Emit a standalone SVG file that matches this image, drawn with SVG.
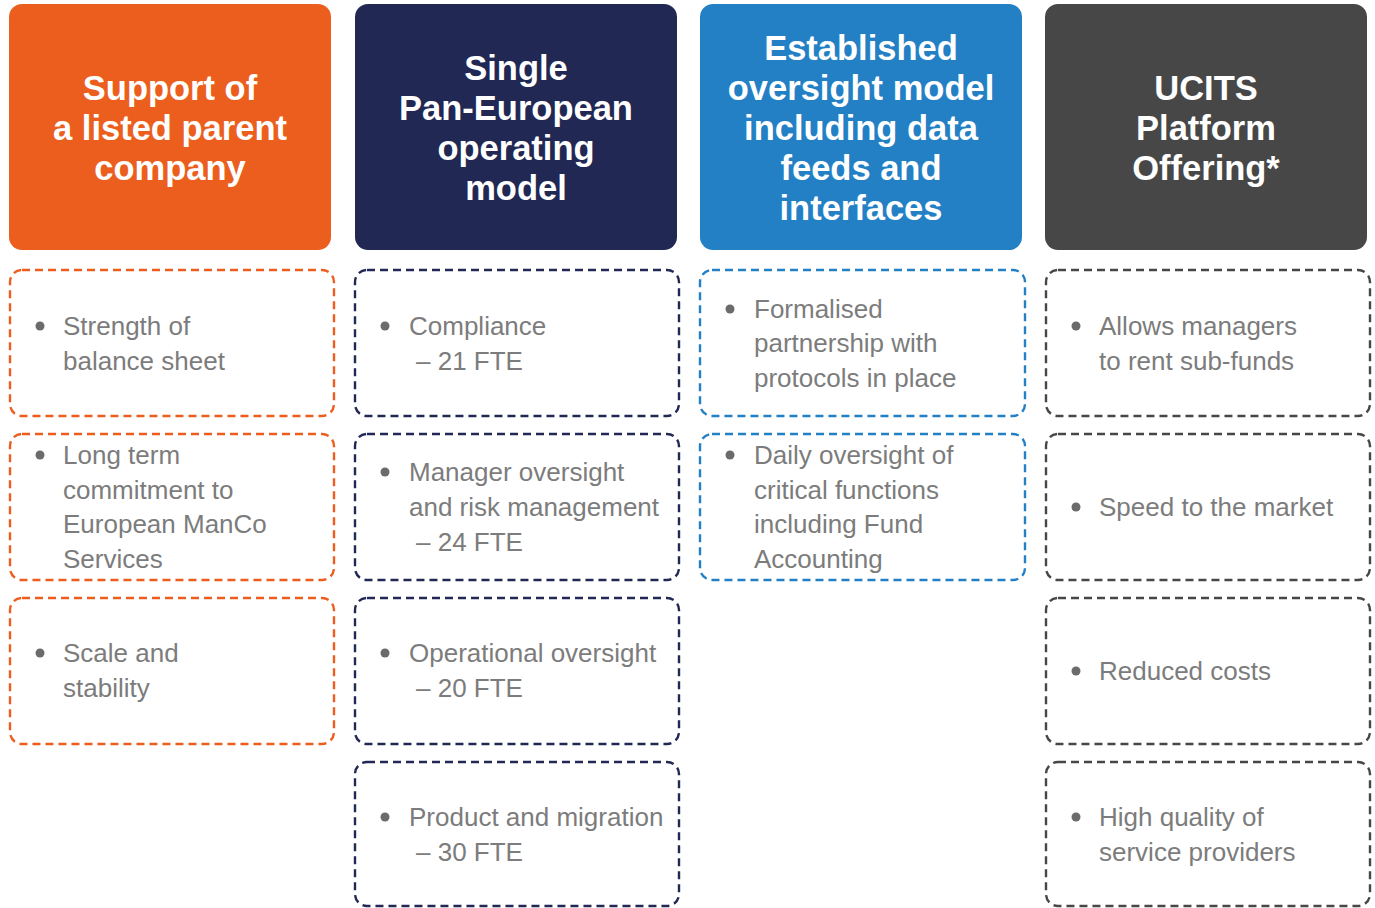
<svg xmlns="http://www.w3.org/2000/svg" width="1375" height="908" viewBox="0 0 1375 908">
<style>
.hd{stroke:none}
.ht{font-family:"Liberation Sans",Arial,sans-serif;font-weight:bold;font-size:34.5px;fill:#fff;text-anchor:middle}
.bx{fill:#fff;stroke-width:2.4;stroke-dasharray:8 5}
.t{font-family:"Liberation Sans",Arial,sans-serif;font-size:26px;fill:#7c7c7c}
.b{fill:#6b6b6b}
.o{stroke:#EB5E1E}.n{stroke:#212854}.bl{stroke:#2480C5}.g{stroke:#474747}
</style>
<rect width="1375" height="908" fill="#fff"/>
<g id="h1"><rect class="hd" x="9" y="4" width="322" height="246" rx="13" fill="#EB5E1E"/>
<text class="ht"><tspan x="170" y="100">Support of</tspan><tspan x="170" y="140">a listed parent</tspan><tspan x="170" y="180">company</tspan></text></g>
<g id="h2"><rect class="hd" x="355" y="4" width="322" height="246" rx="13" fill="#212854"/>
<text class="ht"><tspan x="516" y="80">Single</tspan><tspan x="516" y="120">Pan-European</tspan><tspan x="516" y="160">operating</tspan><tspan x="516" y="200">model</tspan></text></g>
<g id="h3"><rect class="hd" x="700" y="4" width="322" height="246" rx="13" fill="#2480C5"/>
<text class="ht"><tspan x="861" y="60">Established</tspan><tspan x="861" y="100">oversight model</tspan><tspan x="861" y="140">including data</tspan><tspan x="861" y="180">feeds and</tspan><tspan x="861" y="220">interfaces</tspan></text></g>
<g id="h4"><rect class="hd" x="1045" y="4" width="322" height="246" rx="13" fill="#474747"/>
<text class="ht"><tspan x="1206" y="100">UCITS</tspan><tspan x="1206" y="140">Platform</tspan><tspan x="1206" y="180">Offering*</tspan></text></g>

<g id="c1r1"><rect class="bx o" x="10" y="270" width="324" height="146" rx="12"/><circle class="b" cx="40" cy="326" r="4.5"/>
<text class="t"><tspan x="63" y="335">Strength of</tspan><tspan x="63" y="370">balance sheet</tspan></text></g>
<g id="c1r2"><rect class="bx o" x="10" y="434" width="324" height="146" rx="12"/><circle class="b" cx="40" cy="455" r="4.5"/>
<text class="t"><tspan x="63" y="464">Long term</tspan><tspan x="63" y="499">commitment to</tspan><tspan x="63" y="533">European ManCo</tspan><tspan x="63" y="568">Services</tspan></text></g>
<g id="c1r3"><rect class="bx o" x="10" y="598" width="324" height="146" rx="12"/><circle class="b" cx="40" cy="653" r="4.5"/>
<text class="t"><tspan x="63" y="662">Scale and</tspan><tspan x="63" y="697">stability</tspan></text></g>

<g id="c2r1"><rect class="bx n" x="355" y="270" width="324" height="146" rx="12"/><circle class="b" cx="385" cy="326" r="4.5"/>
<text class="t"><tspan x="409" y="335">Compliance</tspan><tspan x="416" y="370">– 21 FTE</tspan></text></g>
<g id="c2r2"><rect class="bx n" x="355" y="434" width="324" height="146" rx="12"/><circle class="b" cx="385" cy="472" r="4.5"/>
<text class="t"><tspan x="409" y="481">Manager oversight</tspan><tspan x="409" y="516">and risk management</tspan><tspan x="416" y="551">– 24 FTE</tspan></text></g>
<g id="c2r3"><rect class="bx n" x="355" y="598" width="324" height="146" rx="12"/><circle class="b" cx="385" cy="653" r="4.5"/>
<text class="t"><tspan x="409" y="662">Operational oversight</tspan><tspan x="416" y="697">– 20 FTE</tspan></text></g>
<g id="c2r4"><rect class="bx n" x="355" y="762" width="324" height="144" rx="12"/><circle class="b" cx="385" cy="817" r="4.5"/>
<text class="t"><tspan x="409" y="826">Product and migration</tspan><tspan x="416" y="861">– 30 FTE</tspan></text></g>

<g id="c3r1"><rect class="bx bl" x="700" y="270" width="325" height="146" rx="12"/><circle class="b" cx="730" cy="309" r="4.5"/>
<text class="t"><tspan x="754" y="318">Formalised</tspan><tspan x="754" y="352">partnership with</tspan><tspan x="754" y="387">protocols in place</tspan></text></g>
<g id="c3r2"><rect class="bx bl" x="700" y="434" width="325" height="146" rx="12"/><circle class="b" cx="730" cy="455" r="4.5"/>
<text class="t"><tspan x="754" y="464">Daily oversight of</tspan><tspan x="754" y="499">critical functions</tspan><tspan x="754" y="533">including Fund</tspan><tspan x="754" y="568">Accounting</tspan></text></g>

<g id="c4r1"><rect class="bx g" x="1046" y="270" width="324" height="146" rx="12"/><circle class="b" cx="1076" cy="326" r="4.5"/>
<text class="t"><tspan x="1099" y="335">Allows managers</tspan><tspan x="1099" y="370">to rent sub-funds</tspan></text></g>
<g id="c4r2"><rect class="bx g" x="1046" y="434" width="324" height="146" rx="12"/><circle class="b" cx="1076" cy="507" r="4.5"/>
<text class="t"><tspan x="1099" y="516">Speed to the market</tspan></text></g>
<g id="c4r3"><rect class="bx g" x="1046" y="598" width="324" height="146" rx="12"/><circle class="b" cx="1076" cy="671" r="4.5"/>
<text class="t"><tspan x="1099" y="680">Reduced costs</tspan></text></g>
<g id="c4r4"><rect class="bx g" x="1046" y="762" width="324" height="144" rx="12"/><circle class="b" cx="1076" cy="817" r="4.5"/>
<text class="t"><tspan x="1099" y="826">High quality of</tspan><tspan x="1099" y="861">service providers</tspan></text></g>
<g id="connectors"/>
</svg>
